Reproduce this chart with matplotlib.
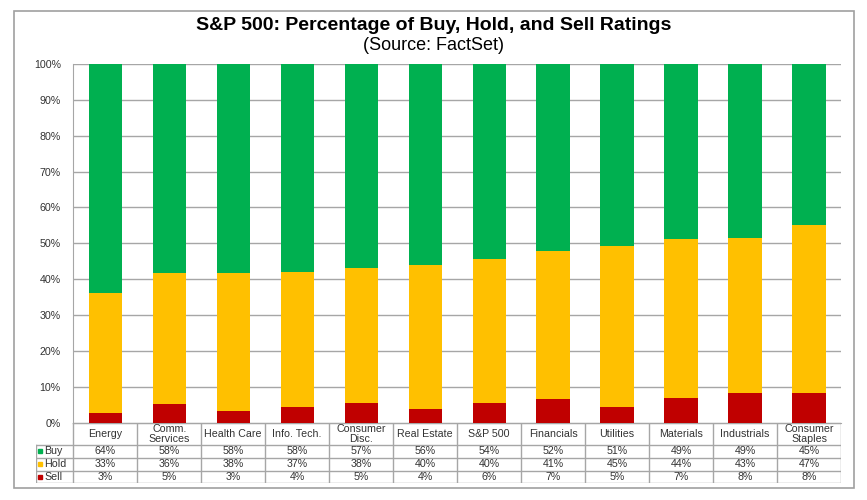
import numpy as np
import matplotlib.pyplot as plt
from matplotlib.patches import Rectangle

plt.rcParams['font.family'] = ['Liberation Sans', 'DejaVu Sans']

# Sectores (orden del grafico)
sectores = ["Energy", "Comm.\nServices", "Health Care", "Info. Tech.", "Consumer\nDisc.",
            "Real Estate", "S&P 500", "Financials", "Utilities", "Materials",
            "Industrials", "Consumer\nStaples"]

# Alturas de las barras (%)
sell_barra = [2.7, 5.2, 3.4, 4.4, 5.6, 3.9, 5.6, 6.6, 4.5, 7.0, 8.2, 8.4]
hold_barra = [33.5, 36.4, 38.2, 37.5, 37.4, 40.2, 40.1, 41.2, 44.7, 44.1, 43.2, 46.6]

# Valores de la tabla (redondeados, tal como aparecen)
buy_tabla = [64, 58, 58, 58, 57, 56, 54, 52, 51, 49, 49, 45]
hold_tabla = [33, 36, 38, 37, 38, 40, 40, 41, 45, 44, 43, 47]
sell_tabla = [3, 5, 3, 4, 5, 4, 6, 7, 5, 7, 8, 8]

VERDE = '#00B050'
AMARILLO = '#FFC000'
ROJO = '#C00000'
GRIS = '#A6A6A6'
TEXTO = '#333333'


def grafico_ratings():
    W, H = 867, 500
    fig = plt.figure(figsize=(W / 100, H / 100), dpi=100)

    # Marco exterior
    fig.patches.append(Rectangle((14 / W, 1 - 488 / H), (854 - 14) / W, (488 - 11) / H,
                                 transform=fig.transFigure, fill=False,
                                 edgecolor='#A0A0A0', linewidth=1.2))

    fig.text(0.5, 1 - 26 / H, "S&P 500: Percentage of Buy, Hold, and Sell Ratings",
             ha='center', va='center', fontsize=14, fontweight='bold')
    fig.text(0.5, 1 - 45.5 / H, "(Source: FactSet)", ha='center', va='center', fontsize=13)

    # Ejes principales
    x0, x1, y0, y1 = 73.3, 841.0, 64.0, 422.7
    ax = fig.add_axes([x0 / W, 1 - y1 / H, (x1 - x0) / W, (y1 - y0) / H])

    n = len(sectores)
    x = np.arange(n)
    sell = np.array(sell_barra)
    hold = np.array(hold_barra)
    buy = 100 - sell - hold

    ancho = 0.52
    ax.bar(x, sell, ancho, color=ROJO, zorder=3)
    ax.bar(x, hold, ancho, bottom=sell, color=AMARILLO, zorder=3)
    ax.bar(x, buy, ancho, bottom=sell + hold, color=VERDE, zorder=3)

    ax.set_xlim(-0.5, n - 0.5)
    ax.set_ylim(0, 100)
    ax.set_yticks(np.arange(0, 101, 10))
    ax.set_yticklabels([f"{v}%" for v in range(0, 101, 10)], fontsize=7.7, color=TEXTO)
    ax.tick_params(axis='y', length=0, pad=9)
    ax.set_xticks([])
    ax.yaxis.grid(True, color=GRIS, linewidth=1, zorder=0)
    for lado in ['top', 'right']:
        ax.spines[lado].set_visible(False)
    ax.spines['left'].set_color(GRIS)
    ax.spines['bottom'].set_color(GRIS)

    # Tabla de datos debajo
    t0 = 35.7
    ty1 = 483.3
    tab = fig.add_axes([t0 / W, 1 - ty1 / H, (x1 - t0) / W, (ty1 - y1) / H])
    ancho_leyenda = (x0 - t0) / ((x1 - x0) / n)
    tab.set_xlim(-0.5 - ancho_leyenda, n - 0.5)
    tab.set_ylim(ty1 - y1, 0)
    tab.axis('off')

    filas = [0, 22.3, 35.0, 47.8, ty1 - y1]
    izq = -0.5 - ancho_leyenda
    # lineas horizontales
    tab.plot([-0.5, n - 0.5], [filas[0], filas[0]], color=GRIS, lw=1)
    for yy in filas[1:]:
        tab.plot([izq, n - 0.5], [yy, yy], color=GRIS, lw=1)
    # lineas verticales
    tab.plot([izq, izq], [filas[1], filas[-1]], color=GRIS, lw=1)
    for k in range(n + 1):
        tab.plot([k - 0.5, k - 0.5], [filas[0], filas[-1]], color=GRIS, lw=1)

    for i, s in enumerate(sectores):
        tab.text(i, (filas[0] + filas[1]) / 2, s, ha='center', va='center',
                 fontsize=7.7, color=TEXTO, linespacing=0.95)

    series = [("Buy", VERDE, buy_tabla), ("Hold", AMARILLO, hold_tabla), ("Sell", ROJO, sell_tabla)]
    for r, (nombre, color, valores) in enumerate(series):
        yc = (filas[r + 1] + filas[r + 2]) / 2
        tab.plot([izq + 0.07], [yc], marker='s', markersize=3.5, color=color, linestyle='none')
        tab.text(izq + 0.13, yc, nombre, ha='left', va='center', fontsize=7.7, color=TEXTO)
        for i, v in enumerate(valores):
            tab.text(i, yc, f"{v}%", ha='center', va='center', fontsize=7.7, color=TEXTO)

    plt.savefig('out.png', dpi=100)


if __name__ == "__main__":
    grafico_ratings()
